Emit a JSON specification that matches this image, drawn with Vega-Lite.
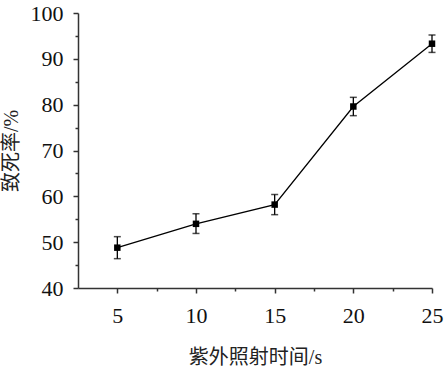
{
  "$schema": "https://vega.github.io/schema/vega-lite/v6.json",
  "autosize": {"type": "none"},
  "width": 354,
  "height": 275,
  "padding": {"left": 78, "top": 13, "right": 13, "bottom": 82},
  "background": "white",
  "config": {
    "font": "Liberation Serif, Times New Roman, serif",
    "view": {"stroke": null},
    "axis": {
      "labelFont": "Liberation Serif, Times New Roman, serif",
      "titleFont": "Liberation Serif, Noto Sans CJK SC, serif",
      "labelFontSize": 22,
      "titleFontSize": 20,
      "labelColor": "#111",
      "titleColor": "#222",
      "titleFontWeight": "normal",
      "domainColor": "#333",
      "domainWidth": 1.5,
      "tickColor": "#333",
      "tickWidth": 1.5,
      "grid": false
    }
  },
  "data": {
    "values": [
      {"t": 5, "rate": 48.8, "lo": 46.4, "hi": 51.2},
      {"t": 10, "rate": 54.0, "lo": 51.9, "hi": 56.2},
      {"t": 15, "rate": 58.2, "lo": 56.0, "hi": 60.4},
      {"t": 20, "rate": 79.6, "lo": 77.6, "hi": 81.6},
      {"t": 25, "rate": 93.3, "lo": 91.4, "hi": 95.2}
    ]
  },
  "layer": [
    {
      "mark": {"type": "line", "color": "black", "strokeWidth": 1.3},
      "encoding": {
        "x": {
          "field": "t", "type": "quantitative",
          "scale": {"domain": [2.5, 25], "nice": false, "zero": false},
          "axis": {
            "orient": "bottom",
            "values": [5, 10, 15, 20, 25],
            "tickSize": 5,
            "labelPadding": 12,
            "labelFlush": false,
            "title": "紫外照射时间/s",
            "titlePadding": 21
          }
        },
        "y": {
          "field": "rate", "type": "quantitative",
          "scale": {"domain": [40, 100], "nice": false, "zero": false},
          "axis": {
            "orient": "left",
            "values": [40, 50, 60, 70, 80, 90, 100],
            "tickSize": 5,
            "labelPadding": 10,
            "labelFlush": false,
            "title": "致死率/%",
            "titlePadding": 9
          }
        }
      }
    },
    {
      "mark": {"type": "rule", "color": "black", "strokeWidth": 1.3},
      "encoding": {
        "x": {"field": "t", "type": "quantitative",
          "axis": {"orient": "bottom", "values": [7.5, 12.5, 17.5, 22.5], "tickSize": 3, "labels": false, "domain": false, "title": null}},
        "y": {"field": "lo", "type": "quantitative",
          "axis": {"orient": "left", "values": [45, 55, 65, 75, 85, 95], "tickSize": 3, "labels": false, "domain": false, "title": null}},
        "y2": {"field": "hi"}
      }
    },
    {
      "mark": {"type": "tick", "orient": "horizontal", "color": "black", "size": 7, "thickness": 1.5},
      "encoding": {
        "x": {"field": "t", "type": "quantitative", "axis": null},
        "y": {"field": "lo", "type": "quantitative", "axis": null}
      }
    },
    {
      "mark": {"type": "tick", "orient": "horizontal", "color": "black", "size": 7, "thickness": 1.5},
      "encoding": {
        "x": {"field": "t", "type": "quantitative", "axis": null},
        "y": {"field": "hi", "type": "quantitative", "axis": null}
      }
    },
    {
      "mark": {"type": "point", "shape": "square", "filled": true, "color": "black", "size": 42, "opacity": 1},
      "encoding": {
        "x": {"field": "t", "type": "quantitative", "axis": null},
        "y": {"field": "rate", "type": "quantitative", "axis": null}
      }
    }
  ],
  "resolve": {"axis": {"x": "independent", "y": "independent"}}
}
